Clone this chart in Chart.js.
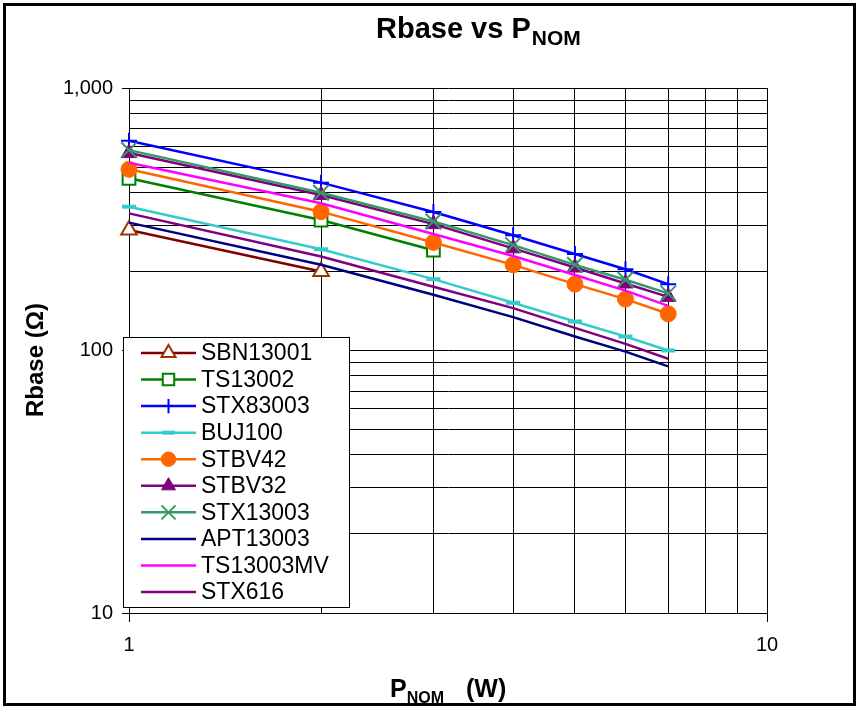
<!DOCTYPE html>
<html>
<head>
<meta charset="utf-8">
<script src="https://cdn.jsdelivr.net/npm/chart.js@4.4.1/dist/chart.umd.min.js"></script>
<style>
  html, body { margin: 0; padding: 0; background: #fff; }
  canvas { display: block; }
</style>
</head>
<body>
<canvas id="chart" width="858" height="707"></canvas>
<script>
// nominal power (W) at which each device was measured
const powers = [1, 2, 3, 4, 5, 6, 7];

// Rbase (ohm) per device
const sbn13001 = [288, 200];
const ts13002 = [453, 314, 241];
const stx83003 = [630, 436, 337, 275, 233, 204, 179];
const buj100 = [353, 243, 187, 152, 129, 113, 100];
const stbv42 = [490, 338, 258, 212, 179, 157, 138];
const stbv32 = [565, 391, 303, 245, 207, 180, 160];
const stx13003 = [580, 399, 310, 252, 212, 186, 165];
const apt13003 = [307, 212, 163, 134, 113, 99, 87];
const ts13003mv = [519, 364, 278, 229, 194, 169, 148];
const stx616 = [333, 228, 175, 145, 122, 106, 93];

const seriesNames = ['SBN13001', 'TS13002', 'STX83003', 'BUJ100', 'STBV42',
  'STBV32', 'STX13003', 'APT13003', 'TS13003MV', 'STX616'];
const seriesValues = [sbn13001, ts13002, stx83003, buj100, stbv42,
  stbv32, stx13003, apt13003, ts13003mv, stx616];

// gridlines and tick labels
const xGridValues = [1, 2, 3, 4, 5, 6, 7, 8, 9, 10];
const xLabelValues = [1, 10];
const xTickLabels = ['1', '10'];
const yGridValues = [10, 20, 30, 40, 50, 60, 70, 80, 90,
  100, 200, 300, 400, 500, 600, 700, 800, 900, 1000];
const yLabelValues = [10, 100, 1000];
const yTickLabels = ['10', '100', '1,000'];

// look of each series (Excel style markers)
const styles = [
  { line: '#800000', marker: '#993300', point: 'triangle', r: 9, bw: 2, fill: '#ffffff' },
  { line: '#008000', marker: '#008000', point: 'rect', r: 9, bw: 2, fill: '#ffffff' },
  { line: '#0000FF', marker: '#0000FF', point: 'cross', r: 8, bw: 2, fill: '#0000FF' },
  { line: '#33CCCC', marker: '#33CCCC', point: 'line', r: 7, bw: 4, fill: '#33CCCC' },
  { line: '#FF6600', marker: '#FF6600', point: 'circle', r: 8, bw: 1, fill: '#FF6600' },
  { line: '#800080', marker: '#800080', point: 'triangle', r: 9, bw: 1, fill: '#800080' },
  { line: '#339966', marker: '#339966', point: 'crossRot', r: 11, bw: 2, fill: '#339966' },
  { line: '#000080', marker: null },
  { line: '#FF00FF', marker: null },
  { line: '#800080', marker: null }
];

const FONT = '"Liberation Sans", Arial, sans-serif';

const datasets = seriesNames.map((name, i) => {
  const s = styles[i];
  return {
    label: name,
    data: seriesValues[i].map((v, k) => ({ x: powers[k], y: v })),
    borderColor: s.line,
    borderWidth: 2.5,
    tension: 0,
    clip: false,
    order: seriesNames.length - i,
    pointStyle: s.marker ? s.point : false,
    pointRadius: s.marker ? s.r : 0,
    pointBorderWidth: s.marker ? s.bw : 0,
    pointBorderColor: s.marker || s.line,
    pointBackgroundColor: s.marker ? s.fill : s.line
  };
});

function tickColorFor(labelValues) {
  return ctx => (ctx.tick && labelValues.includes(ctx.tick.value)) ? '#000' : 'rgba(0,0,0,0)';
}

// titles, legend box and the outer frame
const decorations = {
  id: 'decorations',
  afterDraw(chart) {
    const ctx = chart.ctx;
    ctx.save();
    ctx.fillStyle = '#000';
    ctx.textAlign = 'left';
    ctx.textBaseline = 'alphabetic';

    // chart title
    ctx.font = 'bold 29px ' + FONT;
    ctx.fillText('Rbase vs P', 376, 38);
    const w1 = ctx.measureText('Rbase vs P').width;
    ctx.font = 'bold 21px ' + FONT;
    ctx.fillText('NOM', 376 + w1 + 1, 45);

    // x axis title
    ctx.font = 'bold 25px ' + FONT;
    ctx.fillText('P', 390, 697);
    const wp = ctx.measureText('P').width;
    ctx.font = 'bold 16px ' + FONT;
    ctx.fillText('NOM', 390 + wp, 703);
    ctx.font = 'bold 25px ' + FONT;
    ctx.fillText('(W)', 466, 697);

    // y axis title
    ctx.save();
    ctx.translate(43, 360);
    ctx.rotate(-Math.PI / 2);
    ctx.textAlign = 'center';
    ctx.font = 'bold 24px ' + FONT;
    ctx.fillText('Rbase (\u03A9)', 0, 0);
    ctx.restore();

    // legend
    ctx.fillStyle = '#fff';
    ctx.fillRect(123.5, 337.5, 226, 270);
    ctx.strokeStyle = '#000';
    ctx.lineWidth = 1;
    ctx.strokeRect(123.5, 337.5, 226, 270);
    ctx.font = '23px ' + FONT;
    ctx.textBaseline = 'middle';
    seriesNames.forEach((name, i) => {
      const s = styles[i];
      const y = 353 + i * 26.56;
      ctx.strokeStyle = s.line;
      ctx.lineWidth = 2.5;
      ctx.beginPath();
      ctx.moveTo(141, y);
      ctx.lineTo(196, y);
      ctx.stroke();
      if (s.marker) {
        ctx.strokeStyle = s.marker;
        ctx.fillStyle = s.fill;
        ctx.lineWidth = s.bw;
        Chart.helpers.drawPoint(ctx, {
          pointStyle: s.point, radius: s.r * 0.9, borderWidth: s.bw, rotation: 0
        }, 168.5, y);
      }
      ctx.fillStyle = '#000';
      ctx.fillText(name, 201, y + 1);
    });

    // outer frame
    ctx.strokeStyle = '#000';
    ctx.lineWidth = 3;
    ctx.strokeRect(4.5, 4.5, 850, 700);
    ctx.restore();
  }
};

new Chart(document.getElementById('chart'), {
  type: 'line',
  data: { datasets },
  options: {
    responsive: false,
    animation: false,
    devicePixelRatio: 1,
    layout: { padding: { top: 88, right: 91, left: 0, bottom: 0 } },
    plugins: {
      legend: { display: false },
      title: { display: false },
      tooltip: { enabled: false }
    },
    scales: {
      x: {
        type: 'logarithmic',
        min: 1,
        max: 10,
        afterBuildTicks: scale => { scale.ticks = xGridValues.map(v => ({ value: v })); },
        afterFit: scale => { scale.height = 94; },
        ticks: {
          autoSkip: false,
          maxRotation: 0,
          minRotation: 0,
          padding: 11,
          color: '#000',
          font: { family: FONT, size: 20 },
          callback: v => {
            const k = xLabelValues.indexOf(v);
            return k >= 0 ? xTickLabels[k] : '';
          }
        },
        grid: {
          color: '#000',
          lineWidth: 1,
          tickLength: 9,
          tickColor: tickColorFor(xLabelValues)
        },
        border: { display: true, color: '#000', width: 1 }
      },
      y: {
        type: 'logarithmic',
        min: 10,
        max: 1000,
        afterBuildTicks: scale => { scale.ticks = yGridValues.map(v => ({ value: v })); },
        afterFit: scale => { scale.width = 129; },
        ticks: {
          autoSkip: false,
          padding: 9,
          color: '#000',
          font: { family: FONT, size: 20 },
          callback: v => {
            const k = yLabelValues.indexOf(v);
            return k >= 0 ? yTickLabels[k] : '';
          }
        },
        grid: {
          color: '#000',
          lineWidth: 1,
          tickLength: 7,
          tickColor: tickColorFor(yLabelValues)
        },
        border: { display: true, color: '#000', width: 1 }
      }
    }
  },
  plugins: [decorations]
});
</script>
</body>
</html>
